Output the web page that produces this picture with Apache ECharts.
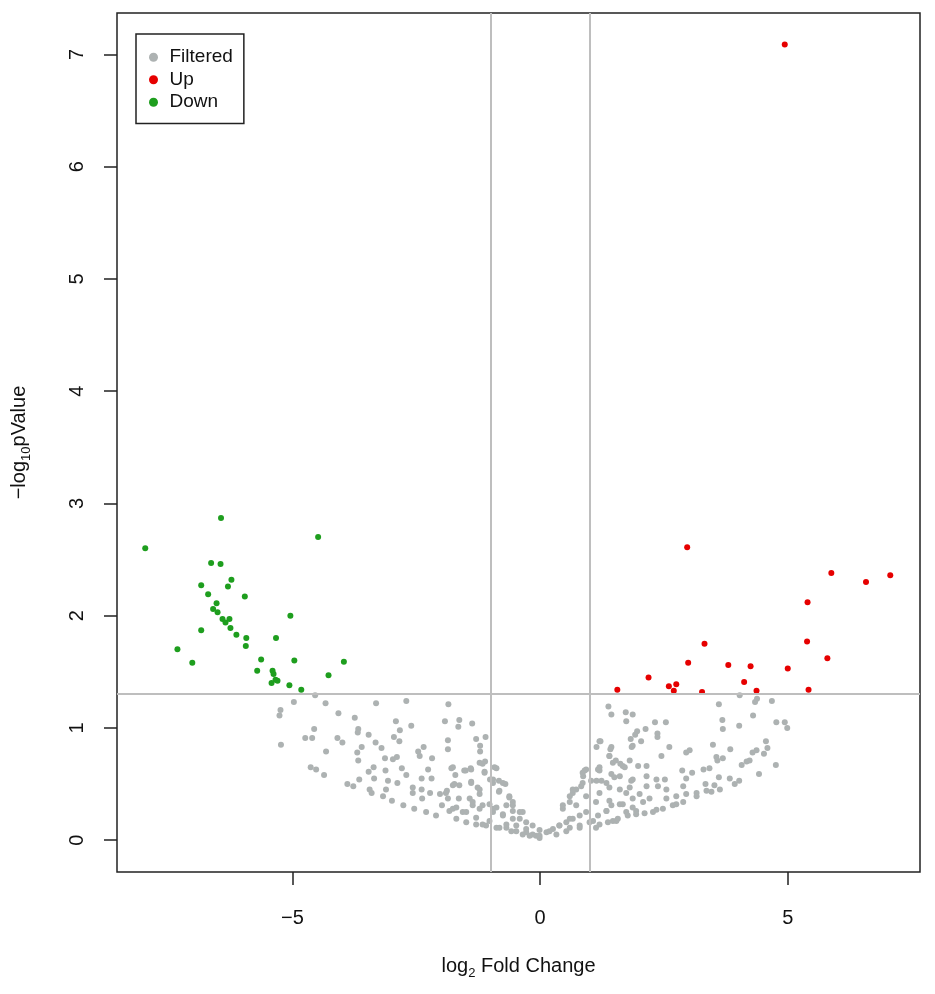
<!DOCTYPE html>
<html>
<head>
<meta charset="utf-8">
<title>Volcano plot</title>
<script src="https://cdn.jsdelivr.net/npm/echarts@6/dist/echarts.min.js"></script>
<style>
    html, body { margin: 0; padding: 0; background: #fff; }
    #chart { width: 935px; height: 994px; }
</style>
</head>
<body>
<div id="chart"></div>
<script>
// log2 fold change / -log10 p value
var upPoints = [
    [4.94, 7.09], [2.97, 2.61], [5.88, 2.38], [6.58, 2.30], [7.07, 2.36], [5.40, 2.12],
    [3.32, 1.75], [5.39, 1.77], [5.80, 1.62], [2.99, 1.58], [3.80, 1.56], [4.25, 1.55],
    [5.00, 1.53], [2.19, 1.45], [4.12, 1.41], [2.60, 1.37], [2.75, 1.39], [2.70, 1.33],
    [1.56, 1.34], [3.27, 1.32], [4.37, 1.33], [5.42, 1.34]
];

var downPoints = [
    [-7.97, 2.60], [-6.44, 2.87], [-4.48, 2.70], [-6.64, 2.47], [-6.45, 2.46], [-6.23, 2.32],
    [-6.84, 2.27], [-6.30, 2.26], [-6.70, 2.19], [-5.96, 2.17], [-6.53, 2.11], [-6.60, 2.06],
    [-6.51, 2.03], [-5.04, 2.00], [-6.41, 1.97], [-6.27, 1.97], [-6.35, 1.94], [-6.25, 1.89],
    [-6.84, 1.87], [-6.13, 1.83], [-5.93, 1.80], [-5.33, 1.80], [-5.94, 1.73], [-7.32, 1.70],
    [-5.63, 1.61], [-4.96, 1.60], [-3.96, 1.59], [-7.02, 1.58], [-5.71, 1.51], [-5.40, 1.51],
    [-5.38, 1.48], [-4.27, 1.47], [-5.34, 1.43], [-5.30, 1.42], [-5.42, 1.40], [-5.06, 1.38],
    [-4.82, 1.34]
];

var filteredPoints = [
    [-4.54, 1.29], [-4.97, 1.23], [-4.33, 1.22], [-3.31, 1.22], [-2.70, 1.24], [-1.85, 1.21],
    [-5.24, 1.16], [-5.26, 1.11], [-4.07, 1.13], [-3.74, 1.09], [-2.91, 1.06], [-2.60, 1.02],
    [-1.92, 1.06], [-1.63, 1.07], [-1.65, 1.01], [-1.37, 1.04], [-4.56, 0.99], [-3.67, 0.99],
    [-3.68, 0.96], [-2.83, 0.98], [-4.74, 0.91], [-4.60, 0.91], [-4.09, 0.91], [-3.99, 0.87],
    [-3.46, 0.94], [-2.95, 0.92], [-2.84, 0.88], [-3.32, 0.87], [-3.20, 0.82], [-1.86, 0.89],
    [-1.86, 0.81], [-1.29, 0.90], [-1.10, 0.92], [-1.21, 0.84], [-1.21, 0.79], [-5.23, 0.85],
    [-4.32, 0.79], [-3.69, 0.78], [-3.60, 0.83], [-3.67, 0.71], [-3.13, 0.73], [-2.97, 0.72],
    [-2.89, 0.74], [-2.46, 0.79], [-2.43, 0.75], [-2.35, 0.83], [-2.18, 0.73], [-4.63, 0.65],
    [-4.52, 0.63], [-4.36, 0.58], [-3.46, 0.61], [-3.36, 0.65], [-3.12, 0.62], [-2.79, 0.64],
    [-2.70, 0.58], [-2.26, 0.63], [-2.39, 0.55], [-2.19, 0.55], [-1.79, 0.64], [-1.71, 0.58],
    [-1.50, 0.62], [-1.40, 0.64], [-1.22, 0.69], [-1.11, 0.70], [-1.12, 0.61], [-0.88, 0.64],
    [-3.89, 0.50], [-3.77, 0.48], [-3.65, 0.54], [-3.35, 0.55], [-3.07, 0.53], [-2.88, 0.51],
    [-2.57, 0.47], [-2.39, 0.45], [-2.22, 0.42], [-2.02, 0.41], [-1.88, 0.44], [-1.76, 0.49],
    [-1.63, 0.49], [-1.39, 0.52], [-1.26, 0.47], [-1.01, 0.54], [-0.95, 0.51], [-0.83, 0.53],
    [-0.70, 0.50], [-0.83, 0.43], [-3.44, 0.45], [-3.40, 0.42], [-3.11, 0.45], [-3.17, 0.39],
    [-2.99, 0.35], [-2.57, 0.42], [-2.38, 0.37], [-1.86, 0.37], [-1.64, 0.37], [-1.42, 0.37],
    [-1.22, 0.41], [-2.76, 0.31], [-2.54, 0.28], [-2.30, 0.25], [-2.10, 0.22], [-1.98, 0.31],
    [-1.83, 0.26], [-1.69, 0.29], [-1.56, 0.25], [-1.36, 0.31], [-1.22, 0.28], [-1.02, 0.32],
    [-0.88, 0.29], [-0.68, 0.31], [-0.55, 0.34], [-0.62, 0.39], [-0.95, 0.25], [-0.75, 0.22],
    [-0.55, 0.19], [-1.69, 0.19], [-1.49, 0.16], [-1.29, 0.14], [-1.09, 0.13], [-0.88, 0.11],
    [-0.68, 0.11], [-0.48, 0.08], [-0.28, 0.07], [-0.08, 0.04], [0.13, 0.07], [-0.41, 0.19],
    [-0.28, 0.16], [-0.15, 0.13], [-0.01, 0.09], [-0.35, 0.25], [-0.55, 0.26],
    [-1.76, 0.65], [-1.53, 0.62], [-1.39, 0.63], [-1.16, 0.68], [-1.12, 0.60], [-0.92, 0.65],
    [-0.95, 0.54], [-0.75, 0.51], [-0.82, 0.44], [-1.73, 0.50], [-1.39, 0.51], [-1.22, 0.45],
    [-1.90, 0.42], [-1.36, 0.34], [-1.16, 0.31], [-0.62, 0.38], [-0.55, 0.31], [-0.41, 0.25],
    [-0.95, 0.28], [-0.75, 0.23], [-1.76, 0.28], [-1.49, 0.25], [-1.29, 0.20], [-1.02, 0.17],
    [-0.68, 0.14], [-0.48, 0.13], [-0.28, 0.10], [-0.15, 0.05], [-0.01, 0.02], [-0.35, 0.05],
    [-0.21, 0.04], [-0.58, 0.08], [-0.82, 0.11], [-1.16, 0.14],
    [0.26, 0.10], [0.39, 0.13], [0.53, 0.16], [0.66, 0.19], [0.80, 0.22], [0.93, 0.25],
    [1.07, 0.17], [0.46, 0.28], [0.60, 0.34], [0.66, 0.42], [0.73, 0.45], [0.86, 0.51],
    [0.86, 0.60], [0.93, 0.63], [1.17, 0.63], [1.14, 0.53], [1.20, 0.42], [1.34, 0.51],
    [1.40, 0.75], [1.47, 0.69], [1.67, 0.66], [1.61, 0.57], [1.84, 0.53], [1.44, 0.31],
    [1.34, 0.26], [1.61, 0.32], [1.74, 0.25], [1.94, 0.26], [1.47, 0.17], [1.20, 0.14],
    [0.80, 0.11], [0.53, 0.08], [0.33, 0.05], [1.20, 0.88], [1.44, 0.83], [1.87, 0.84],
    [1.74, 0.42], [1.87, 0.37],
    [4.03, 1.29], [4.38, 1.26], [4.34, 1.23], [4.68, 1.24], [3.61, 1.21], [1.38, 1.19],
    [1.44, 1.12], [1.73, 1.14], [1.87, 1.12], [1.74, 1.06], [4.30, 1.11], [2.32, 1.05],
    [2.54, 1.05], [2.13, 0.99], [3.68, 1.07], [3.69, 0.99], [4.02, 1.02], [4.77, 1.05],
    [4.94, 1.05], [4.99, 1.00], [1.96, 0.97], [1.92, 0.94], [2.37, 0.95], [2.37, 0.92],
    [1.83, 0.90], [2.04, 0.88], [1.22, 0.88], [1.14, 0.83], [1.85, 0.83], [2.61, 0.83],
    [3.49, 0.85], [3.84, 0.81], [2.95, 0.78], [3.02, 0.80], [4.56, 0.88], [4.59, 0.82],
    [4.52, 0.77], [4.37, 0.80], [4.29, 0.78], [1.42, 0.81], [1.40, 0.75], [1.53, 0.71],
    [1.81, 0.71], [2.45, 0.75], [3.69, 0.73], [3.58, 0.71], [4.23, 0.71], [4.17, 0.70],
    [4.07, 0.67], [4.76, 0.67], [1.62, 0.68], [1.71, 0.65], [1.98, 0.66], [2.15, 0.66],
    [1.20, 0.65], [1.20, 0.62], [0.90, 0.62], [1.44, 0.59], [1.50, 0.56], [1.87, 0.54],
    [2.15, 0.57], [2.87, 0.62], [3.07, 0.60], [2.95, 0.55], [3.30, 0.63], [3.42, 0.64],
    [3.61, 0.56], [3.83, 0.55], [4.02, 0.53], [3.93, 0.50], [4.42, 0.59], [2.35, 0.54],
    [2.52, 0.54], [2.55, 0.45], [2.38, 0.48], [2.89, 0.48], [3.34, 0.50], [3.63, 0.45],
    [3.52, 0.49], [1.24, 0.53], [1.03, 0.53], [1.40, 0.47], [1.61, 0.45], [1.81, 0.47],
    [2.15, 0.48], [2.01, 0.41], [2.21, 0.37], [2.55, 0.37], [2.75, 0.39], [2.95, 0.41],
    [3.16, 0.42], [3.36, 0.44], [1.67, 0.32], [1.87, 0.29], [2.08, 0.34], [2.28, 0.25],
    [2.48, 0.28], [2.68, 0.31], [2.89, 0.34], [1.77, 0.22], [1.57, 0.19], [1.37, 0.16],
    [2.11, 0.24], [1.34, 0.26], [1.13, 0.34], [0.93, 0.39], [0.87, 0.57], [0.83, 0.48],
    [0.60, 0.39], [0.66, 0.45], [0.46, 0.31], [0.73, 0.31], [1.17, 0.22], [1.40, 0.35],
    [1.54, 0.17], [1.94, 0.23], [2.35, 0.27], [2.75, 0.32], [3.16, 0.39], [3.46, 0.43],
    [-0.01, 0.04], [0.19, 0.08], [0.39, 0.13], [0.60, 0.19], [1.00, 0.16], [1.13, 0.11],
    [0.60, 0.11], [0.80, 0.13], [3.56, 0.74]
];

var xTicks = [-5, 0, 5];
var yTicks = [0, 1, 2, 3, 4, 5, 6, 7];
var fcCut = [-1, 1];
var pCut = 1.301;   // -log10(0.05)

var FONT = '"Liberation Sans", Arial, sans-serif';

function minusSign(v) {
    return String(v).replace('-', '\u2212');
}

var cutLines = fcCut.map(function(v) { return { xAxis: v }; });
cutLines.push({ yAxis: pCut });

var subStyle = { fontFamily: FONT, fontSize: 13, lineHeight: 13, verticalAlign: 'bottom', color: '#111' };

var option = {
    animation: false,
    backgroundColor: '#fff',
    textStyle: { fontFamily: FONT },
    grid: {
        left: 117, right: 15, top: 13, bottom: 122,
        outerBoundsMode: 'none',
        containLabel: false,
        show: true,
        borderColor: '#222',
        borderWidth: 1.5
    },
    legend: {
        orient: 'vertical',
        left: 136, top: 34,
        backgroundColor: '#fff',
        borderColor: '#222',
        borderWidth: 1.5,
        borderRadius: 0,
        padding: [12, 11, 10, 13],
        itemGap: 0,
        itemWidth: 22,
        itemHeight: 9,
        icon: 'circle',
        textStyle: { fontFamily: FONT, fontSize: 19, lineHeight: 22.5, color: '#111' },
        data: ['Filtered', 'Up', 'Down']
    },
    xAxis: {
        type: 'value',
        min: -8.54, max: 7.67,
        axisLine: { show: false, onZero: false },
        splitLine: { show: false },
        axisTick: {
            customValues: xTicks, length: 13,
            lineStyle: { color: '#222', width: 1.5 }
        },
        axisLabel: {
            customValues: xTicks, margin: 36,
            fontFamily: FONT, fontSize: 20, color: '#111',
            formatter: minusSign
        },
        name: 'log{s|2} Fold Change',
        nameLocation: 'middle',
        nameGap: 80,
        nameTextStyle: {
            fontFamily: FONT, fontSize: 20, color: '#111', lineHeight: 28,
            rich: { s: subStyle }
        }
    },
    yAxis: {
        type: 'value',
        min: -0.284, max: 7.37,
        axisLine: { show: false, onZero: false },
        splitLine: { show: false },
        axisTick: {
            customValues: yTicks, length: 13,
            lineStyle: { color: '#222', width: 1.5 }
        },
        axisLabel: {
            customValues: yTicks, margin: 30, rotate: 90,
            fontFamily: FONT, fontSize: 20, color: '#111'
        },
        name: '\u2212log{s|10}pValue',
        nameLocation: 'middle',
        nameRotate: 90,
        nameGap: 84,
        nameTextStyle: {
            fontFamily: FONT, fontSize: 20, color: '#111', lineHeight: 28,
            rich: { s: subStyle }
        }
    },
    series: [
        {
            name: 'Filtered',
            type: 'scatter',
            symbolSize: 6,
            itemStyle: { color: '#ADB2B2', opacity: 1 },
            data: filteredPoints,
            markLine: {
                silent: true,
                symbol: ['none', 'none'],
                label: { show: false },
                lineStyle: { color: '#BEBEBE', width: 2, type: 'solid' },
                data: cutLines
            }
        },
        {
            name: 'Up',
            type: 'scatter',
            symbolSize: 6,
            itemStyle: { color: '#E60000', opacity: 1 },
            data: upPoints
        },
        {
            name: 'Down',
            type: 'scatter',
            symbolSize: 6,
            itemStyle: { color: '#1E9E1E', opacity: 1 },
            data: downPoints
        }
    ]
};

var myChart = echarts.init(document.getElementById('chart'));
myChart.setOption(option);
</script>
</body>
</html>
